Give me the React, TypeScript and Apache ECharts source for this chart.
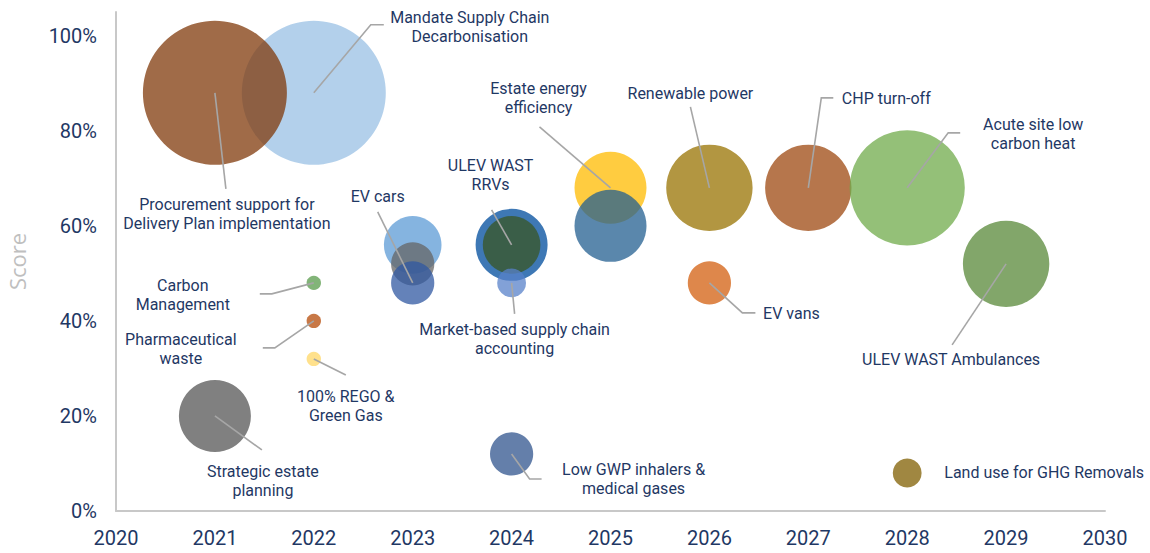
import React, { useEffect, useRef } from "react";
import * as echarts from "echarts";

// ---- Data ----
const names = [
  "Mandate Supply Chain Decarbonisation",
  "Procurement support for Delivery Plan implementation",
  "Strategic estate planning",
  "Carbon Management",
  "Pharmaceutical waste",
  "100% REGO & Green Gas",
  "2023 item A",
  "2023 item B",
  "EV cars",
  "2024 item A",
  "ULEV WAST RRVs",
  "Market-based supply chain accounting",
  "Low GWP inhalers & medical gases",
  "Estate energy efficiency",
  "2025 item B",
  "Renewable power",
  "EV vans",
  "CHP turn-off",
  "Acute site low carbon heat",
  "Land use for GHG Removals",
  "ULEV WAST Ambulances",
];
const years = [2022, 2021, 2021, 2022, 2022, 2022, 2023, 2023, 2023, 2024, 2024, 2024, 2024, 2025, 2025, 2026, 2026, 2027, 2028, 2028, 2029];
const scores = [0.88, 0.88, 0.2, 0.48, 0.4, 0.32, 0.56, 0.52, 0.48, 0.56, 0.56, 0.48, 0.12, 0.68, 0.6, 0.68, 0.48, 0.68, 0.68, 0.08, 0.52];
const sizes = [100, 100, 25, 1, 1, 1, 16, 9, 9, 25, 16, 4, 9, 25, 25, 36, 9, 36, 64, 4, 36];
const labels = [
  "Mandate Supply Chain\nDecarbonisation",
  "Procurement support for\nDelivery Plan implementation",
  "Strategic estate\nplanning",
  "Carbon\nManagement",
  "Pharmaceutical\nwaste",
  "100% REGO &\nGreen Gas",
  "",
  "",
  "EV cars",
  "",
  "ULEV WAST\nRRVs",
  "Market-based supply chain\naccounting",
  "Low GWP inhalers &\nmedical gases",
  "Estate energy\nefficiency",
  "",
  "Renewable power",
  "EV vans",
  "CHP turn-off",
  "Acute site low\ncarbon heat",
  "Land use for GHG Removals",
  "ULEV WAST Ambulances",
];
const xTicks = [2020, 2030, 1];
const yTicks = [0, 1.05, 0.2];

// ---- Styles ----
const colors = [
  "#9AC0E4", "#803A0B", "#565656", "#589B4B", "#B64B08", "#FFD766",
  "#5C9BD6", "#666666", "#3058A2", "#3E78B5", "#3A5E48", "#5881CA",
  "#30548E", "#FFBB00", "#235F90", "#987302", "#D35F0F", "#9E4810",
  "#70AB4B", "#805F02", "#588838",
];
const opacities = [
  0.75, 0.75, 0.75, 0.75, 0.75, 0.75, 0.75, 0.75, 0.75, 1, 1, 0.75,
  0.75, 0.75, 0.75, 0.75, 0.75, 0.75, 0.75, 0.75, 0.75,
];
// label offset (px, from bubble centre) and leader line points (px, from bubble centre)
const labelOffsets: [number, number][] = [
  [156, -66], [12, 121], [48, 65], [-131, 12], [-133, 28], [32, 47],
  [0, 0], [0, 0], [-35, -86], [0, 0], [-21, -70], [3, 56], [122, 25],
  [-72, -90], [0, 0], [-19, -94], [82, 31], [78, -89], [126, -54], [137, 0], [-55, 96],
];
const leaders: number[][][] = [
  [[0, 0], [57, -68], [70, -68]],
  [[0, 0], [11, 96]],
  [[0, 0], [47, 34]],
  [[0, 0], [-42, 11], [-54, 11]],
  [[0, 0], [-39, 27], [-51, 27]],
  [[0, 0], [32, 16]],
  [], [],
  [[0, 0], [-35, -71]],
  [],
  [[0, 0], [-20, -35]],
  [[0, 0], [3, 31]],
  [[0, 0], [18, 25], [30, 25]],
  [[0, 0], [-71, -61]],
  [],
  [[0, 0], [-19, -81]],
  [[0, 0], [33, 30], [46, 30]],
  [[0, 0], [13, -90], [25, -90]],
  [[0, 0], [41, -55], [53, -55]],
  [],
  [[0, 0], [-54, 81]],
];

const NAVY = "#1F3864";
const SIZE_SCALE = 14.4;

function rgba(hex: string, a: number) {
  const n = parseInt(hex.slice(1), 16);
  return `rgba(${(n >> 16) & 255},${(n >> 8) & 255},${n & 255},${a})`;
}

export default function App() {
  const ref = useRef<HTMLDivElement>(null);
  useEffect(() => {
    document.body.style.margin = "0";
    if (!ref.current) return;
    const chart = echarts.init(ref.current, undefined, { renderer: "svg" });
    const scatterData = names.map((n, i) => ({
      name: n,
      value: [years[i], scores[i], sizes[i]],
      itemStyle: { color: rgba(colors[i], opacities[i]), opacity: 1 },
      label: {
        show: labels[i] !== "",
        position: "inside",
        offset: labelOffsets[i],
        formatter: labels[i],
      },
    }));
    const leaderData = names.map((n, i) => [years[i], scores[i], i]);
    chart.setOption({
      animation: false,
      grid: {
        left: 116,
        right: 45,
        top: 12,
        bottom: 42,
        containLabel: false,
        outerBoundsMode: "none",
      },
      xAxis: {
        type: "value",
        min: xTicks[0],
        max: xTicks[1],
        interval: xTicks[2],
        axisLine: { show: true, lineStyle: { color: "#C8C8C8", width: 2 } },
        axisTick: { show: false },
        splitLine: { show: false },
        axisLabel: {
          color: NAVY,
          fontSize: 20,
          fontFamily: "Roboto",
          margin: 17,
          formatter: (v: number) => String(v),
        },
      },
      yAxis: {
        type: "value",
        min: yTicks[0],
        max: yTicks[1],
        interval: yTicks[2],
        name: "Score",
        nameLocation: "middle",
        nameGap: 88,
        nameRotate: 90,
        nameTextStyle: { color: "#BFBFBF", fontSize: 22, fontFamily: "Open Sans" },
        axisLine: { show: true, lineStyle: { color: "#C8C8C8", width: 2 } },
        axisTick: { show: false },
        splitLine: { show: false },
        axisLabel: {
          color: NAVY,
          fontSize: 20,
          fontFamily: "Roboto",
          margin: 19,
          showMaxLabel: false,
          formatter: (v: number) => (v > 1.001 ? "" : Math.round(v * 100) + "%"),
        },
      },
      series: [
        {
          type: "scatter",
          data: scatterData,
          symbolSize: (v: number[]) => SIZE_SCALE * Math.sqrt(v[2]),
          z: 2,
          itemStyle: { opacity: 1 },
          emphasis: { disabled: true },
          label: {
            color: NAVY,
            fontSize: 16,
            fontFamily: "Roboto",
            lineHeight: 19,
            align: "center",
            verticalAlign: "middle",
            textBorderWidth: 0,
            textBorderColor: "transparent",
          },
        },
        {
          type: "custom",
          z: 5,
          silent: true,
          data: leaderData,
          renderItem: (params: any, api: any) => {
            const idx = api.value(2);
            const pts = leaders[idx];
            if (!pts || pts.length === 0) return null;
            const c = api.coord([api.value(0), api.value(1)]);
            return {
              type: "polyline",
              shape: { points: pts.map((p) => [c[0] + p[0], c[1] + p[1]]) },
              style: { stroke: "#A6A6A6", lineWidth: 1.6, fill: "none" },
            };
          },
        },
      ],
    });
    return () => chart.dispose();
  }, []);
  return <div ref={ref} style={{ width: 1150, height: 553 }} />;
}
